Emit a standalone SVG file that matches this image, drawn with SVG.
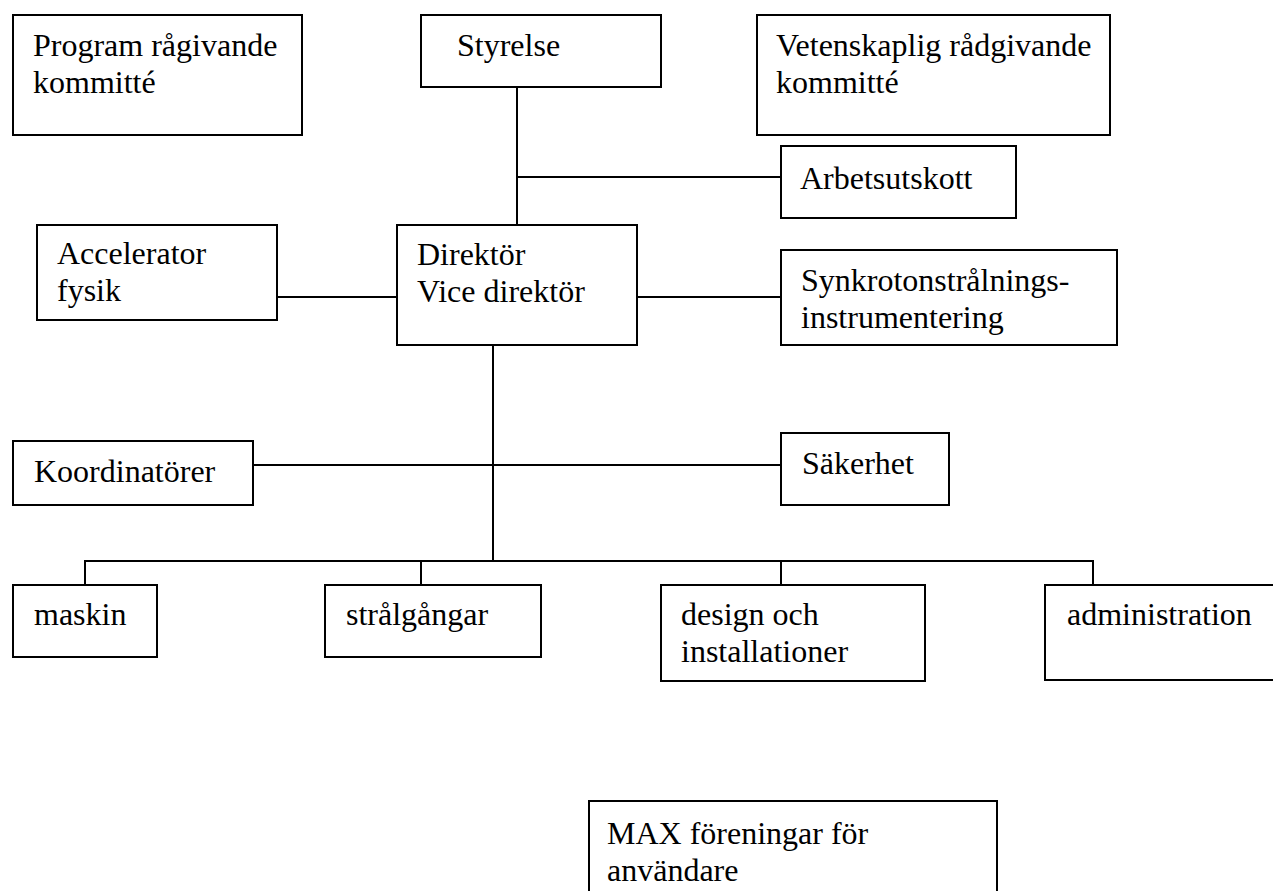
<svg xmlns="http://www.w3.org/2000/svg" width="1273" height="891" viewBox="0 0 1273 891">
<style>
.box{fill:#fff;stroke:#000;stroke-width:2}
.ln{stroke:#000;stroke-width:2;fill:none}
text{font-family:"Liberation Serif","Times New Roman",serif;font-size:32px;fill:#000}
</style>
<rect width="1273" height="891" fill="#fff"/>
<g id="connectors">
<line class="ln" x1="517" y1="87" x2="517" y2="225"/>
<line class="ln" x1="517" y1="177" x2="781" y2="177"/>
<line class="ln" x1="277" y1="297" x2="397" y2="297"/>
<line class="ln" x1="637" y1="297" x2="781" y2="297"/>
<line class="ln" x1="493" y1="345" x2="493" y2="561"/>
<line class="ln" x1="253" y1="465" x2="781" y2="465"/>
<polyline class="ln" points="85,585 85,561 1093,561 1093,585"/>
<line class="ln" x1="421" y1="561" x2="421" y2="585"/>
<line class="ln" x1="781" y1="561" x2="781" y2="585"/>
</g>
<g id="program">
<rect class="box" x="13" y="15" width="289" height="120"/>
<text x="33" y="56">Program rågivande</text>
<text x="33" y="93">kommitté</text>
</g>
<g id="styrelse">
<rect class="box" x="421" y="15" width="240" height="72"/>
<text x="457" y="56">Styrelse</text>
</g>
<g id="vetenskaplig">
<rect class="box" x="757" y="15" width="353" height="120"/>
<text x="776" y="56">Vetenskaplig rådgivande</text>
<text x="776" y="93">kommitté</text>
</g>
<g id="arbetsutskott">
<rect class="box" x="781" y="146" width="235" height="72"/>
<text x="800" y="189">Arbetsutskott</text>
</g>
<g id="accelerator">
<rect class="box" x="37" y="225" width="240" height="95"/>
<text x="57" y="264">Accelerator</text>
<text x="57" y="301">fysik</text>
</g>
<g id="direktor">
<rect class="box" x="397" y="225" width="240" height="120"/>
<text x="417" y="265">Direktör</text>
<text x="417" y="302">Vice direktör</text>
</g>
<g id="synkroton">
<rect class="box" x="781" y="250" width="336" height="95"/>
<text x="801" y="291">Synkrotonstrålnings-</text>
<text x="801" y="328">instrumentering</text>
</g>
<g id="koordinatorer">
<rect class="box" x="13" y="441" width="240" height="64"/>
<text x="34" y="482">Koordinatörer</text>
</g>
<g id="sakerhet">
<rect class="box" x="781" y="433" width="168" height="72"/>
<text x="802" y="474">Säkerhet</text>
</g>
<g id="maskin">
<rect class="box" x="13" y="585" width="144" height="72"/>
<text x="34" y="625">maskin</text>
</g>
<g id="stralgangar">
<rect class="box" x="325" y="585" width="216" height="72"/>
<text x="346" y="625">strålgångar</text>
</g>
<g id="design">
<rect class="box" x="661" y="585" width="264" height="96"/>
<text x="681" y="625">design och</text>
<text x="681" y="662">installationer</text>
</g>
<g id="administration">
<rect class="box" x="1045" y="585" width="240" height="95"/>
<text x="1067" y="625">administration</text>
</g>
<g id="max">
<rect class="box" x="589" y="801" width="408" height="110"/>
<text x="607" y="844">MAX föreningar för</text>
<text x="607" y="881">användare</text>
</g>
</svg>
